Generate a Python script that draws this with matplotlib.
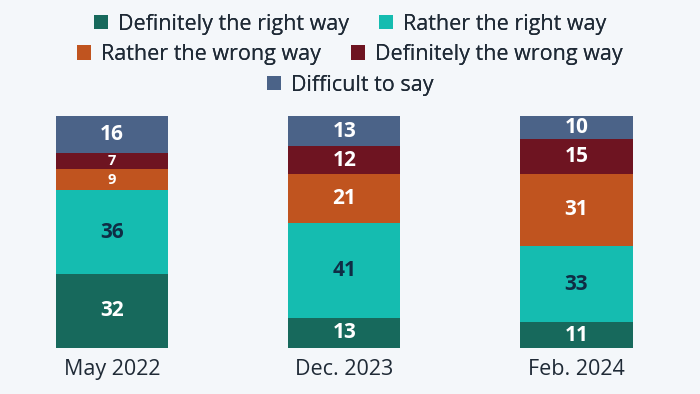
import matplotlib
matplotlib.use("Agg")
import matplotlib.pyplot as plt

# --- data ---
periods = ["May 2022", "Dec. 2023", "Feb. 2024"]
series_names = [
    "Definitely the right way",
    "Rather the right way",
    "Rather the wrong way",
    "Definitely the wrong way",
    "Difficult to say",
]
definitely_right = [32, 13, 11]
rather_right = [36, 41, 33]
rather_wrong = [9, 21, 31]
definitely_wrong = [7, 12, 15]
difficult = [16, 13, 10]

series_values = [definitely_right, rather_right, rather_wrong, definitely_wrong, difficult]
colors = ["#17695c", "#15bcb0", "#c0541f", "#6e1421", "#4b6388"]
label_colors = ["white", "#0f2d45", "white", "white", "white"]

BG = "#f4f7fa"
TEXT = "#1f2a36"
plt.rcParams["font.family"] = ["Open Sans", "DejaVu Sans"]

fig = plt.figure(figsize=(7, 3.94), dpi=100, facecolor=BG)
ax = fig.add_axes([0.001, 1 - 348 / 394, 0.995, 232 / 394])
ax.set_facecolor(BG)

x = list(range(len(periods)))
bottoms = [0] * len(periods)
handles = []
for vals, col, lc, name in zip(series_values, colors, label_colors, series_names):
    bars = ax.bar(x, vals, width=0.483, bottom=bottoms, color=col, label=name)
    handles.append(bars)
    for xi, v, b in zip(x, vals, bottoms):
        size = 10.5 if v < 10 else 15
        ax.text(xi, b + v / 2, str(v), ha="center", va="center",
                color=lc, fontsize=size, fontweight="bold")
    bottoms = [b + v for b, v in zip(bottoms, vals)]

ax.set_xlim(-0.48, 2.52)
ax.set_ylim(0, 100)
ax.set_xticks(x)
ax.set_xticklabels(periods, fontsize=15.5, color=TEXT)
ax.tick_params(axis="x", length=0, pad=8)
ax.set_yticks([])
for s in ax.spines.values():
    s.set_visible(False)

# legend in three centred rows
rows = [(0, 2, 0.998), (2, 4, 0.921), (4, 5, 0.843)]
for start, stop, ytop in rows:
    leg = fig.legend(handles[start:stop], series_names[start:stop],
                     loc="upper center", bbox_to_anchor=(0.5, ytop),
                     ncol=stop - start, frameon=False, fontsize=15.5,
                     handlelength=0.65, handleheight=0.65, handletextpad=0.45,
                     columnspacing=1.4, borderpad=0.1, labelcolor=TEXT)
    fig.add_artist(leg)

fig.savefig("out.png", dpi=100, facecolor=BG)
